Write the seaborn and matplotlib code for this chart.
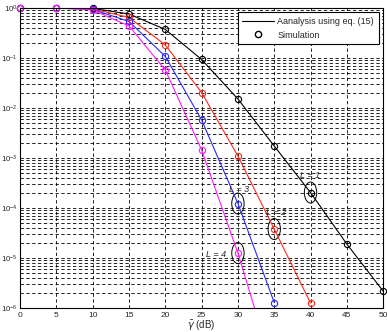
import numpy as np
import pandas as pd
import seaborn as sns
import matplotlib.pyplot as plt
import matplotlib.transforms as mtransforms
from matplotlib.patches import Ellipse
from matplotlib.lines import Line2D

snr_db = [0, 5, 10, 15, 20, 25, 30, 35, 40, 45, 50]
# log10 of the probability
log_l1 = [0.0, 0.0, -0.01, -0.12, -0.43, -1.03, -1.82, -2.76, -3.69, -4.72, -5.66]
log_l2 = [0.0, 0.0, -0.02, -0.19, -0.74, -1.69, -2.96, -4.42, -5.90]
log_l3 = [0.0, 0.0, -0.03, -0.27, -0.97, -2.24, -3.91, -5.89]
log_l4 = [0.0, 0.0, -0.04, -0.36, -1.24, -2.84, -4.90, -7.30]

series = {"L=1": log_l1, "L=2": log_l2, "L=3": log_l3, "L=4": log_l4}
colors = {"L=1": "black", "L=2": "#ff2a1a", "L=3": "#2a2aff", "L=4": "#ff1aff"}

rows = []
for name, vals in series.items():
    for x, v in zip(snr_db, vals):
        rows.append({"snr": x, "p": 10 ** v, "L": name})
df = pd.DataFrame(rows)

sns.set_style("white")
plt.rcParams['font.family'] = ['Liberation Sans', 'DejaVu Sans']

fig = plt.figure(figsize=(3.87, 3.32), dpi=100)
ax = fig.add_axes([0.052, 0.072, 0.938, 0.904])

# analytical curves (clipped at the axes)
sns.lineplot(data=df, x="snr", y="p", hue="L", palette=colors, ax=ax,
             linewidth=0.8, legend=False)
n_lines = len(ax.lines)
# simulation markers, drawn over the frame like the original
vis = df[df["p"] >= 1e-6]
sns.lineplot(data=vis, x="snr", y="p", hue="L", palette=colors, ax=ax,
             linestyle="none", legend=False, marker="o", markersize=4.5,
             markerfacecolor="none", markeredgewidth=0.8, clip_on=False)
for ln in ax.lines[n_lines:]:
    ln.set_markeredgecolor(ln.get_color())

ax.set_yscale("log")
ax.set_xlim(0, 50)
ax.set_ylim(1e-6, 1)
ax.set_xticks(range(0, 51, 5))
ax.set_yticks([10.0 ** k for k in range(-6, 1)])
ax.tick_params(axis="both", which="both", direction="in", labelsize=6, length=3,
               pad=3)
ax.tick_params(axis="y", which="both", labelsize=5.6, pad=1.5)
ax.tick_params(axis="y", which="minor", length=1.5)
ax.grid(True, which="major", color="black", linestyle=(0, (4, 3)), linewidth=0.6)
ax.grid(True, which="minor", axis="y", color="black", linestyle=(0, (4, 3)), linewidth=0.6)
for sp in ax.spines.values():
    sp.set_color("black")
    sp.set_linewidth(0.8)

ax.set_xlabel(r"$\bar{\gamma}$ (dB)", fontsize=7, labelpad=0)
ax.set_ylabel("")

handles = [Line2D([], [], color="black", linewidth=0.8),
           Line2D([], [], color="black", marker="o", linestyle="none",
                  markerfacecolor="none", markersize=4.5)]
leg = ax.legend(handles, ["Aanalysis using eq. (15)", "Simulation"],
                loc="upper right", fontsize=6.5, frameon=True, fancybox=False,
                framealpha=1, edgecolor="black", borderaxespad=0.5,
                handlelength=3.5, handletextpad=0.4, borderpad=0.5,
                labelspacing=0.5)
leg.get_frame().set_linewidth(0.8)
leg.set_zorder(5)

# ellipses around selected markers, with labels
ell_x = [40, 30, 35, 30]
ell_log = [-3.69, -3.91, -4.42, -4.90]
ell_txt = ["L = 1", "L = 3", "L = 2", "L = 4"]
txt_x = [38.6, 28.8, 33.9, 25.6]
txt_log = [-3.40, -3.67, -4.13, -4.98]

trans = mtransforms.blended_transform_factory(ax.transData, ax.transAxes)
for x, lg, txt, tx, tl in zip(ell_x, ell_log, ell_txt, txt_x, txt_log):
    e = Ellipse((x, (lg + 6) / 6), 1.7, 0.07, fill=False, edgecolor="black",
                linewidth=0.7, transform=trans)
    ax.add_patch(e)
    ax.text(tx, 10 ** tl, txt, fontsize=6.5, style="italic")

fig.savefig("out.png", dpi=100)
